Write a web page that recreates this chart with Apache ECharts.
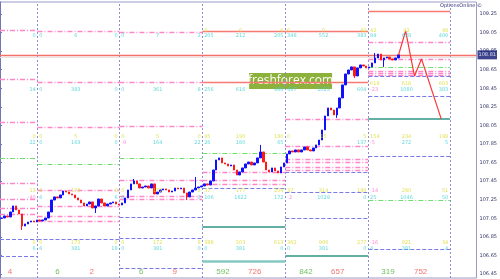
<!DOCTYPE html>
<html><head><meta charset="utf-8">
<script src="https://cdn.jsdelivr.net/npm/echarts@6/dist/echarts.min.js"></script>
<style>html,body{margin:0;padding:0;background:#fff}#c{width:500px;height:279px}</style>
</head><body><div id="c"></div>
<script>
// ---- data ----
const dayStarts = [0, 12.75, 40.6, 68.8, 97, 125.2, 153];
const tickValues = [106.45,106.65,106.85,107.05,107.25,107.45,107.65,107.85,108.05,108.25,108.45,108.65,108.85,109.05,109.25];
const firstOpen = 107.05;
const closes = [
107.053,107.075,107.064,107.118,107.183,107.140,107.096,106.967,106.989,107.010,
107.021,107.010,107.032,107.021,107.032,107.053,107.118,107.247,107.280,107.269,
107.301,107.344,107.333,107.312,107.301,107.269,107.247,107.215,107.183,107.204,
107.226,107.161,107.183,107.258,107.215,107.183,107.204,107.215,107.226,107.204,
107.193,107.215,107.269,107.355,107.420,107.452,107.420,107.376,107.387,107.398,
107.376,107.420,107.312,107.333,107.355,107.366,107.355,107.333,107.344,107.376,
107.366,107.376,107.323,107.280,107.333,107.355,107.376,107.387,107.398,107.420,
107.409,107.452,107.570,107.678,107.700,107.646,107.635,107.613,107.624,107.570,
107.516,107.549,107.592,107.635,107.656,107.624,107.646,107.700,107.764,107.656,
107.570,107.549,107.592,107.560,107.538,107.603,107.646,107.743,107.775,107.764,
107.786,107.764,107.786,107.818,107.786,107.775,107.807,107.840,107.893,108.001,
108.152,108.238,108.216,108.163,108.238,108.346,108.486,108.604,108.647,108.680,
108.583,108.669,108.701,108.690,108.669,108.680,108.723,108.776,108.819,108.755,
108.776,108.787,108.766,108.755,108.776,108.810];
const wickHigh = {45:107.473, 66:107.495, 88:107.840, 127:108.830};
const wickLow = {7:106.924, 32:107.107, 63:107.247, 114:108.131, 120:108.561, 130:108.680};
const currentPrice = 108.81;
const forecast = [[135.5,108.81],[137.9,109.067],[140.9,108.583],[143.3,108.766],[150,108.12]];

const pinkLevels = [[0,109.078],[0,108.550],[0,108.087],[0,107.430],[0,107.258],[0,107.161],[0,107.096],
[1,109.067],[1,108.518],[1,108.033],[1,107.355],[1,107.183],[1,107.075],[1,107.021],
[2,109.056],[2,108.518],[2,108.044],[2,107.463],[2,107.290],[2,107.258],
[3,107.549],[3,107.463],[3,107.420],
[4,108.120],[4,107.829],[4,107.689],[4,107.656],[4,107.603],[4,107.570],
[5,108.949],[5,108.766],[5,108.636],[5,108.615],[5,108.593]];
const greenLevels = [[0,107.700],[1,107.635],[2,107.700],[3,107.753],[5,108.680],[5,107.247]];
const purpleLevels = [[0,106.827],[0,106.644],[1,106.827],[2,107.064],[2,106.838],[2,106.515],
[3,107.376],[4,107.549],[4,107.333],[4,107.053],[5,108.583],[5,108.367],[5,107.721],[5,106.720]];
const redLevels = [[3,109.067],[4,109.067],[3,108.518],[4,108.518],[5,109.283]];
const tealLevels = [[3,106.956],[4,106.644],[5,108.120]];
const lightTealLevels = [[3,106.590]];
const grayLevel = 108.78;

const rowPricesA = [109.067, 108.496, 107.926, 107.344, 106.784];
const rowPricesB = [109.013, 108.432, 107.862, 107.269, 106.720];
const labelsA = [
 [['','',''],['','',''],['','','0'],['','','13'],['','','0']],
 [['','',''],['','',''],['0','5','0'],['0','173','0'],['0','173','0']],
 [['','',''],['','',''],['0','5','0'],['0','172','8'],['0','172','8']],
 [['0','0','0'],['','',''],['95','190','180'],['37','177','204'],['388','503','613']],
 [['0','0','42'],['','',''],['0','15','5'],['37','314','190'],['362','906','277']],
 [['42','42','48'],['618','618','603'],['154','234','198'],['-14','280','51'],['-16','921','34']]
];
const labelsB = [
 [['','','0'],['','','14'],['','','22'],['','','-40'],['','','6']],
 [['0','6','0'],['0','383','0'],['0','163','0'],['6','','6'],['6','381','18']],
 [['0','7','2'],['0','361','8'],['-9','164','22'],['0','','0'],['0','381','0']],
 [['205','212','205'],['256','616','468'],['26','180','65'],['106','1822','172'],['0','381','0']],
 [['348','552','383'],['487','1023','604'],['','','137'],['-2','1029','0'],['0','381','0']],
 [['84','628','400'],['-23','1080','383'],['-5','272','5'],['25','1046','50'],['4','381','4']]
];
const dayNums = ['4','6','2','6','9','592','726','842','657','319','752'];
const dayNumX = [3.4,19.5,31.2,48,59.4,75.8,86.6,104,114.8,131.9,143];
const dayNumKind = ['dn','up','dn','up','dn','up','dn','up','dn','up','dn'];
const dayNumPrice = 106.472;

// ---- build ----
const X_MAX = 162;
const Y_MIN = 106.407, Y_MAX = 109.379;
const candleData = closes.map((c, i) => {
  const o = i ? closes[i - 1] : firstOpen;
  let h = Math.max(o, c), l = Math.min(o, c);
  if (wickHigh[i] != null) h = Math.max(h, wickHigh[i]);
  if (wickLow[i] != null) l = Math.min(l, wickLow[i]);
  return [i + 0.5, o, c, l, h];
});
function seg(list) {
  return list.map(([d, p]) => ({ coords: [[dayStarts[d], p], [dayStarts[d + 1], p]] }));
}
function levelSeries(list, color, width, type, z) {
  return { type: 'lines', coordinateSystem: 'cartesian2d', silent: true, z: z || 2,
    data: seg(list), lineStyle: { color, width, type, opacity: 1 } };
}
const FONT = 'DejaVu Sans';
const textItems = [];
function addRows(rows, prices, baseColor) {
  rows.forEach((dayRows, d) => {
    dayRows.forEach((trip, r) => {
      trip.forEach((t, k) => {
        if (!t) return;
        const x = k === 0 ? dayStarts[d] + 0.6 : (k === 1 ? dayStarts[d] + 13 : dayStarts[d + 1] - 0.6);
        textItems.push({ value: [x, prices[r]], label: { show: true, formatter: t,
          position: k === 0 ? 'right' : (k === 1 ? 'inside' : 'left'), distance: 0,
          color: t[0] === '-' ? '#ff6fd0' : baseColor, fontSize: 5, fontFamily: FONT } });
      });
    });
  });
}
addRows(labelsA, rowPricesA, '#d9d92a');
addRows(labelsB, rowPricesB, '#3ccfcf');
const bottomItems = dayNums.map((t, i) => ({ value: [dayNumX[i], dayNumPrice],
  label: { show: true, formatter: t, position: 'inside', fontSize: 8, fontFamily: 'Liberation Sans',
    color: dayNumKind[i] === 'up' ? '#4fae3a' : '#f0504a' } }));
const vLines = dayStarts.slice(1).map(b => ({ coords: [[b, Y_MIN], [b, Y_MAX]] }));

const chart = echarts.init(document.getElementById('c'), null, { renderer: 'canvas' });
chart.setOption({
  animation: false,
  backgroundColor: '#ffffff',
  grid: { left: 0, right: 17, top: 2, bottom: 1, show: true, borderColor: '#9a9ac8', borderWidth: 1 },
  xAxis: { type: 'value', min: 0, max: X_MAX, show: false },
  yAxis: { type: 'value', position: 'right', min: Y_MIN, max: Y_MAX,
    splitLine: { show: false },
    axisLine: { show: true, lineStyle: { color: '#7474b8', width: 1 } },
    axisTick: { show: true, length: 2, customValues: tickValues, lineStyle: { color: '#7474b8' } },
    axisLabel: { fontSize: 5, color: '#333366', margin: 3, fontFamily: FONT, customValues: tickValues,
      formatter: v => Number(v).toFixed(2) } },
  series: [
    { type: 'lines', coordinateSystem: 'cartesian2d', silent: true, z: 1, data: vLines,
      lineStyle: { color: '#8c8cd8', width: 1, type: [2, 2], opacity: 1 } },
    levelSeries(pinkLevels, '#ff86c8', 1.3, [5, 2, 1, 2]),
    levelSeries(greenLevels, '#6fe06f', 1, [5, 2, 1, 2]),
    levelSeries(purpleLevels, '#7b7be6', 1, [4, 2]),
    levelSeries(redLevels, '#f87a72', 1.3, 'solid'),
    levelSeries(tealLevels, '#2f9485', 1.5, 'solid'),
    levelSeries(lightTealLevels, '#86c9c2', 2.5, 'solid'),
    { type: 'lines', coordinateSystem: 'cartesian2d', silent: true, z: 2,
      data: [{ coords: [[0, grayLevel], [X_MAX, grayLevel]] }],
      lineStyle: { color: '#e4e4e4', width: 1, type: 'solid', opacity: 1 } },
    { type: 'lines', coordinateSystem: 'cartesian2d', silent: true, z: 3,
      data: [{ coords: [[0, currentPrice], [X_MAX, currentPrice]] }],
      lineStyle: { color: '#f5706a', width: 1.3, type: 'solid', opacity: 1 } },
    { type: 'candlestick', z: 5, barWidth: 2, data: candleData, encode: { x: 0, y: [1, 2, 3, 4] },
      itemStyle: { color: '#1010ff', color0: '#ff1a1a', borderColor: '#1010ff', borderColor0: '#ff1a1a', borderWidth: 1 } },
    { type: 'line', z: 6, data: forecast, symbol: 'none', lineStyle: { color: '#ff3535', width: 1.2 } },
    { type: 'scatter', z: 7, silent: true, symbolSize: 0, data: textItems },
    { type: 'scatter', z: 7, silent: true, symbolSize: 0, data: bottomItems },
    { type: 'scatter', z: 8, silent: true, symbolSize: 0, clip: false,
      data: [{ value: [X_MAX, currentPrice], label: { show: true, position: 'right', distance: 1,
        formatter: currentPrice.toFixed(2), backgroundColor: '#0c1470', color: '#ffffff',
        fontSize: 5, fontFamily: FONT, padding: [2, 1] } }] }
  ],
  graphic: [
    { type: 'group', left: 248, top: 73, z: 100, children: [
      { type: 'rect', shape: { x: 0, y: 0, width: 83, height: 16 }, style: { fill: '#8db23c' } },
      { type: 'text', x: 41.5, y: 8, style: { text: 'freshforex.com', fill: '#ffffff', font: '12px "Open Sans"',
        textAlign: 'center', textVerticalAlign: 'middle' } } ] },
    { type: 'text', right: 18, top: 3, z: 100, style: { text: 'OptionsOnline ©', fill: '#33337a', font: '5px "DejaVu Sans"' } }
  ]
});
</script></body></html>
